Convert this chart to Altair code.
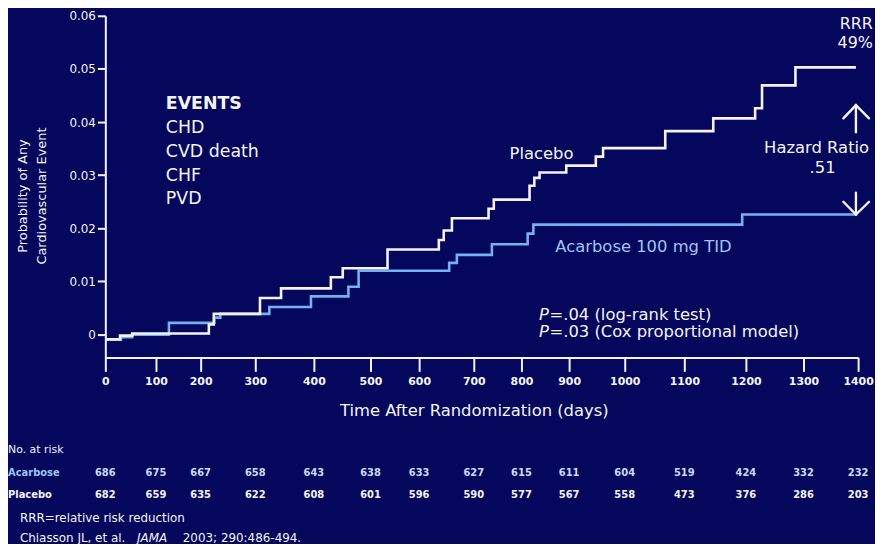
import altair as alt
import pandas as pd

# ---------------- data ----------------
tick_days = [0, 100, 200, 300, 400, 500, 600, 700, 800, 900, 1000, 1100, 1200, 1300, 1400]
prob_ticks = [0, 0.01, 0.02, 0.03, 0.04, 0.05, 0.06]

placebo_day = [0, 29, 53, 215, 224, 308, 344, 430, 451, 535, 636, 645, 660, 731, 742,
               817, 827, 838, 894, 948, 961, 1068, 1147, 1216, 1228, 1286, 1396]
placebo_p = [-0.0009, -0.0002, 0.0002, 0.0019, 0.0039, 0.0069, 0.0087, 0.0108, 0.0125,
             0.0160, 0.0178, 0.0196, 0.0219, 0.0237, 0.0254, 0.0280, 0.0295, 0.0305,
             0.0318, 0.0335, 0.0351, 0.0383, 0.0407, 0.0426, 0.0469, 0.0503, 0.0503]

acarbose_day = [0, 31, 53, 129, 225, 236, 324, 395, 461, 479, 655, 669, 738, 813, 825, 1194, 1396]
acarbose_p = [-0.0009, -0.0005, 0.0, 0.0022, 0.0032, 0.0039, 0.0052, 0.0072, 0.0090, 0.0120,
              0.0135, 0.0150, 0.0170, 0.0190, 0.0207, 0.0226, 0.0228]

risk_days = tick_days
risk_acarbose = [686, 675, 667, 658, 643, 638, 633, 627, 615, 611, 604, 519, 424, 332, 232]
risk_placebo = [682, 659, 635, 622, 608, 601, 596, 590, 577, 567, 558, 473, 376, 286, 203]

events_labels = ["CHD", "CVD death", "CHF", "PVD"]

# ---------------- styling ----------------
BG = "#04075c"
WHITE = "#f4f4f8"
BLUE = "#74b2ee"
BLUE_TXT = "#9cc6f2"
FONT = "DejaVu Sans"

# the slide's day axis is hand-spaced, so the scale is piecewise linear
x_range = [0, 51, 96, 151, 210, 267, 316, 371, 419, 467, 523, 583, 645, 703, 758]
xs = alt.Scale(domain=tick_days, range=x_range)
ys = alt.Scale(domain=[-0.0043, 0.06], nice=False, zero=False)

x_axis = alt.Axis(
    values=tick_days, format="d", grid=False,
    domainColor=WHITE, domainWidth=2, tickColor=WHITE, tickWidth=2, tickSize=14,
    labelColor=WHITE, labelFont=FONT, labelFontSize=11, labelFontWeight="bold",
    labelPadding=4, labelFlush=False, labelOverlap=False,
    title="Time After Randomization (days)", titleColor=WHITE, titleFont=FONT,
    titleFontSize=16.5, titleFontWeight="normal", titleX=371, titleY=53,
    titleAlign="center", titleBaseline="middle",
)
y_axis = alt.Axis(
    values=prob_ticks, grid=False,
    labelExpr="datum.value == 0 ? '0' : format(datum.value, '.2f')",
    domainColor=WHITE, domainWidth=2, tickColor=WHITE, tickWidth=2, tickSize=8,
    labelColor=WHITE, labelFont=FONT, labelFontSize=12, labelPadding=2,
    title=["Probability of Any", "Cardiovascular Event"], titleColor=WHITE,
    titleFont=FONT, titleFontSize=13, titleFontWeight="normal", titleLineHeight=19,
    titleAngle=270, titleX=-83, titleY=181, titleAlign="center", titleBaseline="middle",
)

X = lambda f="day": alt.X(f"{f}:Q", scale=xs, axis=x_axis)
Y = lambda f="p": alt.Y(f"{f}:Q", scale=ys, axis=y_axis)

acarbose_df = pd.DataFrame({"day": acarbose_day, "p": acarbose_p})
placebo_df = pd.DataFrame({"day": placebo_day, "p": placebo_p})

line_acarbose = alt.Chart(acarbose_df).mark_line(
    interpolate="step-after", color=BLUE, strokeWidth=2.6
).encode(x=X(), y=Y())
line_placebo = alt.Chart(placebo_df).mark_line(
    interpolate="step-after", color=WHITE, strokeWidth=2.6
).encode(x=X(), y=Y())


def text_layer(rows, color=WHITE, size=16.5, align="left", weight="normal", style="normal", dx=0):
    df = pd.DataFrame(rows, columns=["day", "p", "label"])
    return alt.Chart(df).mark_text(
        align=align, baseline="middle", font=FONT, fontSize=size, color=color,
        fontWeight=weight, fontStyle=style, dx=dx,
    ).encode(x=X(), y=Y(), text="label:N")


events_title = text_layer([(122, 0.0434, "EVENTS")], size=17.5, weight="bold")
events_list = text_layer(
    [(122, v, t) for v, t in zip([0.0389, 0.0344, 0.0299, 0.0256], events_labels)], size=17.5
)
placebo_lbl = text_layer([(775, 0.0340, "Placebo")])
acarbose_lbl = text_layer([(871, 0.01645, "Acarbose 100 mg TID")], color=BLUE_TXT)
hr_lbl = text_layer([(1324, 0.0351, "Hazard Ratio"), (1335, 0.0314, ".51")], align="center")
rrr_lbl = text_layer([(1427, 0.0585, "RRR"), (1427, 0.0548, "49%")], align="right", size=16)
p_italic = text_layer([(837, 0.0037, "P"), (837, 0.0004, "P")], style="italic")
p_rest = text_layer([(837, 0.0037, "=.04 (log-rank test)"),
                     (837, 0.0004, "=.03 (Cox proportional model)")], dx=10.5)

arrows_df = pd.DataFrame({
    "day":  [1396, 1373, 1420, 1396, 1373, 1420],
    "day2": [1396, 1396, 1396, 1396, 1396, 1396],
    "p":    [0.0381, 0.0407, 0.0407, 0.0267, 0.0250, 0.0250],
    "p2":   [0.0432, 0.0432, 0.0432, 0.0226, 0.0226, 0.0226],
})
arrows = alt.Chart(arrows_df).mark_rule(color=WHITE, strokeWidth=2.4, strokeCap="round").encode(
    x=X(), x2="day2:Q", y=Y(), y2="p2:Q"
)

# ---------------- number-at-risk table and footnotes ----------------
risk_df = pd.DataFrame({"day": risk_days, "a": [str(v) for v in risk_acarbose],
                        "b": [str(v) for v in risk_placebo]})
risk_a = alt.Chart(risk_df).mark_text(
    font=FONT, fontSize=10, fontWeight="bold", color="#c8dcf8", baseline="middle"
).encode(x=X(), y=alt.value(460), text="a:N")
risk_b = alt.Chart(risk_df).mark_text(
    font=FONT, fontSize=10, fontWeight="bold", color=WHITE, baseline="middle"
).encode(x=X(), y=alt.value(483), text="b:N")


def free_text(label, px, py, color=WHITE, size=11, style="normal", weight="normal"):
    df = pd.DataFrame({"label": [label]})
    return alt.Chart(df).mark_text(
        align="left", baseline="middle", font=FONT, fontSize=size, color=color,
        fontStyle=style, fontWeight=weight,
    ).encode(x=alt.value(px), y=alt.value(py), text="label:N")


foot = [
    free_text("No. at risk", -98, 437, size=11),
    free_text("Acarbose", -98, 460, color=BLUE_TXT, size=10, weight="bold"),
    free_text("Placebo", -98, 483, size=10, weight="bold"),
    free_text("RRR=relative risk reduction", -86, 506, size=12),
    free_text("Chiasson JL, et al.", -86, 526, size=12),
    free_text("JAMA", 32, 526, size=12, style="italic"),
    free_text("2003; 290:486-494.", 78, 526, size=12),
]

chart = alt.layer(
    line_acarbose, line_placebo, arrows,
    events_title, events_list, placebo_lbl, acarbose_lbl, hr_lbl, rrr_lbl,
    p_italic, p_rest, risk_a, risk_b, *foot,
).properties(
    width=758, height=344,
    autosize=alt.AutoSizeParams(type="none"),
    padding={"left": 98, "top": 6, "right": 17, "bottom": 186},
    background=BG,
).configure_view(stroke=None)

chart.save("out.html", embed_options={"renderer": "svg", "actions": False})
